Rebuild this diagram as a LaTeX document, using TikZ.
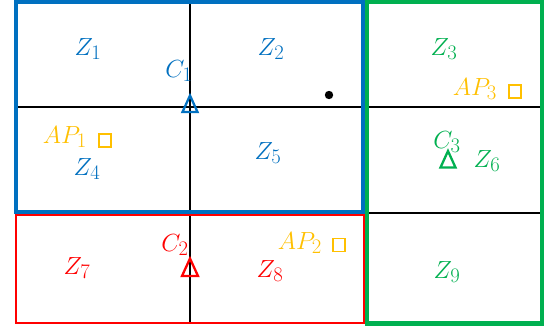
\documentclass[tikz,border=0pt]{standalone}
\definecolor{zblue}{HTML}{0070C0}
\definecolor{zgreen}{HTML}{00B050}
\definecolor{zred}{HTML}{FF0000}
\definecolor{zorange}{HTML}{FFC000}
\begin{document}
\begin{tikzpicture}[x=1bp,y=-1bp,
  gridline/.style={line width=2bp,black},
  lbl/.style={font=\fontsize{24.88}{28}\selectfont, inner sep=0pt},
  trimark/.style={line width=2.3bp, line join=miter},
  apbox/.style={draw=zorange,line width=1.4bp,minimum width=12bp,minimum height=13bp,inner sep=0pt}]
\useasboundingbox[fill=white] (0,0) rectangle (558,331);
% grid lines
\coordinate (vt) at (190,0);
\coordinate (vb) at (190,323);
\coordinate (h1l) at (15,106.5);
\coordinate (h1r) at (542,106.5);
\coordinate (h2l) at (367,213.3);
\coordinate (h2r) at (542,213.3);
\draw[gridline] (vt) -- (vb);
\draw[gridline] (h1l) -- (h1r);
\draw[gridline] (h2l) -- (h2r);
% cluster rectangles
\draw[zred, line width=2.6bp] (16,214.3) rectangle (364.5,323);
\draw[zblue, line width=4bp] (15.5,1.5) rectangle (362.5,212);
\draw[zgreen, line width=4.2bp] (367,1.5) rectangle (541.8,323.5);
% zone labels
\node[lbl, text=zblue] (z1) at (88,49) {$Z_1$};
\node[lbl, text=zblue] (z2) at (271,49) {$Z_2$};
\node[lbl, text=zgreen] (z3) at (444,49) {$Z_3$};
\node[lbl, text=zblue] (z4) at (87,169) {$Z_4$};
\node[lbl, text=zblue] (z5) at (268,153) {$Z_5$};
\node[lbl, text=zgreen] (z6) at (487,161) {$Z_6$};
\node[lbl, text=zred] (z7) at (77,268) {$Z_7$};
\node[lbl, text=zred] (z8) at (270,271) {$Z_8$};
\node[lbl, text=zgreen] (z9) at (447,272) {$Z_9$};
% controllers
\node[lbl, text=zblue] (c1) at (179,71) {$C_1$};
\node[lbl, text=zred] (c2) at (175,245) {$C_2$};
\node[lbl, text=zgreen] (c3) at (447,142) {$C_3$};
\coordinate (t1) at (190,104);
\coordinate (t2) at (190,267.5);
\coordinate (t3) at (448,159.5);
\draw[trimark, zblue] ([shift={(0,-8.5)}]t1) -- ([shift={(7.5,8)}]t1) -- ([shift={(-7.5,8)}]t1) -- cycle;
\draw[trimark, zred] ([shift={(0,-9)}]t2) -- ([shift={(8,8.5)}]t2) -- ([shift={(-8,8.5)}]t2) -- cycle;
\draw[trimark, zgreen] ([shift={(0,-8.5)}]t3) -- ([shift={(7.5,8)}]t3) -- ([shift={(-7.5,8)}]t3) -- cycle;
% access points
\node[lbl, text=zorange, anchor=east] (ap1) at (87,137) {$AP_1$};
\node[lbl, text=zorange, anchor=east] (ap2) at (322,243) {$AP_2$};
\node[lbl, text=zorange, anchor=east] (ap3) at (497,89) {$AP_3$};
\node[apbox] (b1) at (105,140.5) {};
\node[apbox] (b2) at (339,245) {};
\node[apbox] (b3) at (515,91.5) {};
% dot
\fill (329,95) circle (4.2bp);
\end{tikzpicture}
\end{document}
